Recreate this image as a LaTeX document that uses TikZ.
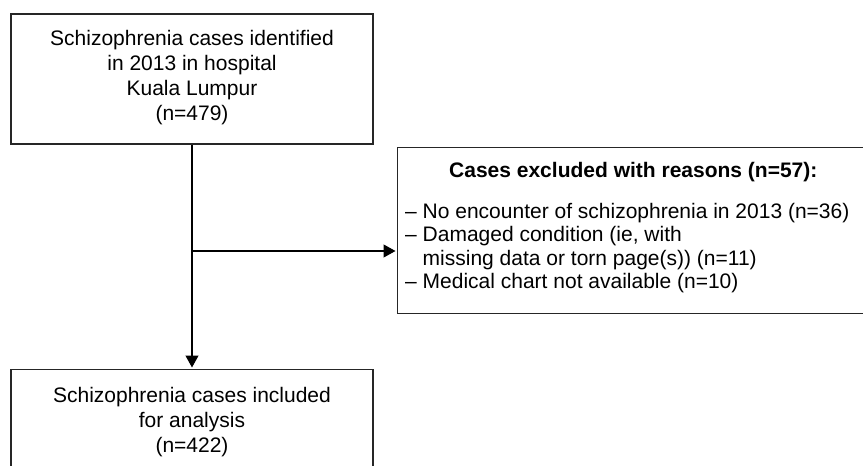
\documentclass[tikz,border=0pt]{standalone}
\usepackage{fontspec}
\setmainfont{Liberation Sans}
\usetikzlibrary{arrows.meta}
\begin{document}
\begin{tikzpicture}[x=1pt,y=-1pt,
  box/.style={draw=black!85,line width=1.2pt,rectangle,inner sep=0pt},
  txt/.style={font=\fontsize{21}{25}\selectfont,inner sep=0pt},
  arr/.style={line width=1.2pt,shorten >=1.5pt,-{Triangle[length=12pt,width=13pt]}}]
\useasboundingbox (0,0) rectangle (863,466);
\clip (0,0) rectangle (863,466);
\node[box,minimum width=362pt,minimum height=130pt] (top) at (192,79) {};
\node[txt,align=center,anchor=north] (toptxt) at (192,30) {Schizophrenia cases identified\\in 2013 in hospital\\Kuala Lumpur\\(n=479)};
\node[box,minimum width=362pt,minimum height=134pt,anchor=north] (bot) at (192,369) {};
\node[txt,align=center,anchor=north] (bottxt) at (192,387) {Schizophrenia cases included\\for analysis\\(n=422)};
\node[box,minimum width=484pt,minimum height=166pt,anchor=north west] (excl) at (397,147) {};
\node[txt,font=\fontsize{21}{25}\selectfont\bfseries,anchor=north west] (excltitle) at (449,162) {Cases excluded with reasons (n=57):};
\node[txt,font=\fontsize{21}{23.4}\selectfont,align=left,anchor=north west] (excllist) at (405,203) {– No encounter of schizophrenia in 2013 (n=36)\\– Damaged condition (ie, with\\\phantom{– }missing data or torn page(s)) (n=11)\\– Medical chart not available (n=10)};
\coordinate (split) at (192,251);
\draw[arr] (top.south) -- (bot.north);
\draw[arr] (split) -- (split -| excl.west);
\end{tikzpicture}
\end{document}
